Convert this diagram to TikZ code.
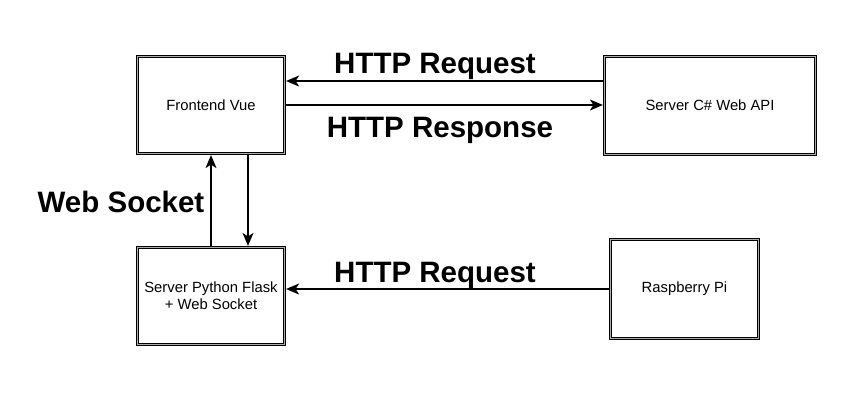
\documentclass[tikz,border=0pt]{standalone}
\usepackage{fontspec}
\setmainfont{Liberation Sans}
\usetikzlibrary{arrows.meta}
\begin{document}
\begin{tikzpicture}[x=1pt,y=-1pt,
  box/.style={draw=black, double=gray!65, double distance=1.4pt, line width=0.9pt,
    fill=white, inner sep=0pt, outer sep=1.6pt, align=center,
    font=\fontsize{14.8}{17}\selectfont},
  arr/.style={-{Stealth[length=13pt,width=11pt,inset=3.5pt]}, line width=1.3pt},
  lbl/.style={anchor=base, font=\fontsize{29.5}{34}\selectfont\bfseries}]
\useasboundingbox (0,0) rectangle (852,400);
\node[box, minimum width=147pt, minimum height=97pt] (fe) at (211,105) {Frontend Vue};
\node[box, minimum width=211pt, minimum height=98pt] (cs) at (710,105.5) {Server C\# Web API};
\node[box, minimum width=147pt, minimum height=97pt] (py) at (211,296) {Server Python Flask\\+ Web Socket};
\node[box, minimum width=148pt, minimum height=99pt] (rp) at (684.5,289) {Raspberry Pi};
\draw[arr] ([yshift=24.5pt]cs.west) -- ([yshift=24.5pt]cs.west -| fe.east);
\draw[arr] (fe.east) -- (fe.east -| cs.west);
\draw[arr] (py.north) -- (fe.south);
\draw[arr] ([xshift=37pt]fe.south) -- ([xshift=37pt]py.north);
\draw[arr] (rp.west) -- (rp.west -| py.east);
\node[lbl] (l1) at (435,73) {HTTP Request};
\node[lbl] (l2) at (440,137) {HTTP Response};
\node[lbl] (l3) at (121,212) {Web Socket};
\node[lbl] (l4) at (435,282) {HTTP Request};
\end{tikzpicture}
\end{document}
